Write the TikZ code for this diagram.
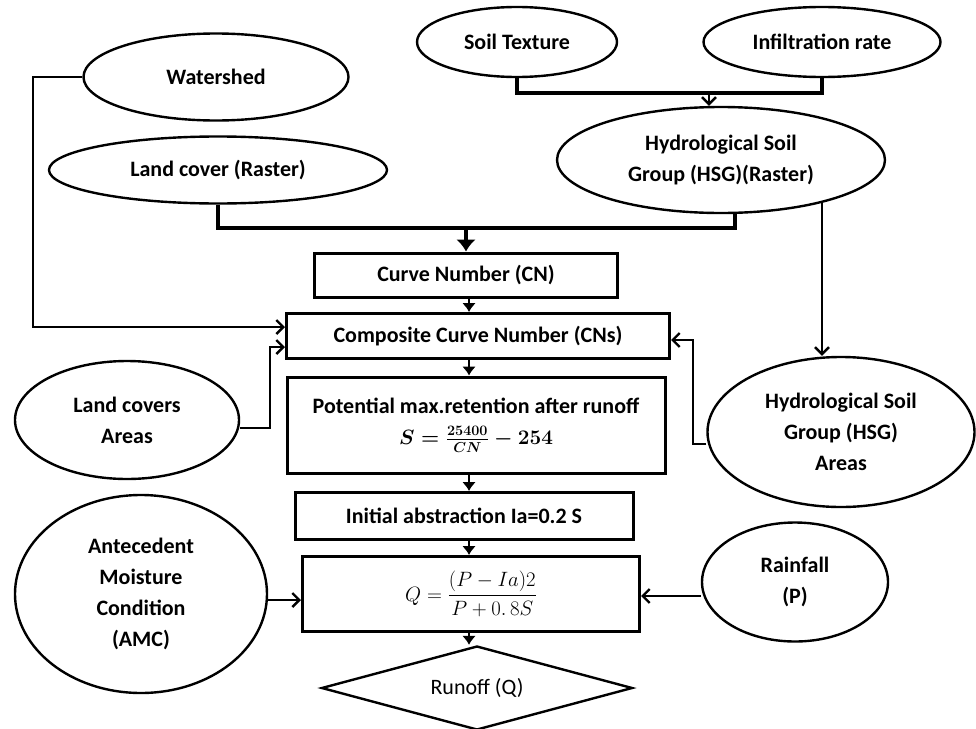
\documentclass[tikz,border=0pt]{standalone}
\usepackage{amsmath}
\usepackage{fontspec}
\setmainfont{Carlito}
\usetikzlibrary{shapes.geometric,arrows.meta}

\begin{document}
\begin{tikzpicture}[x=1pt,y=-1pt,
        font=\fontsize{22}{31}\selectfont\bfseries,
        oval/.style={draw,ellipse,line width=2.4pt,inner sep=0pt,align=center},
        stepbox/.style={draw,rectangle,line width=3pt,inner sep=0pt,align=center},
        thickline/.style={line width=4.5pt},
        arr/.style={line width=2.4pt,-{Straight Barb[length=7pt,width=14pt]}},
        downarr/.style={line width=2pt,-{Latex[length=9pt,width=14pt]}},
        bigarr/.style={line width=4.5pt,-{Latex[length=12pt,width=20pt]}}]
    \useasboundingbox (0,0) rectangle (976,728);

    % inputs
    \node[oval,minimum width=265pt,minimum height=87pt] (watershed) at (216,77) {Watershed};
    \node[oval,minimum width=338pt,minimum height=67pt] (landcover) at (218,170) {Land cover (Raster)};
    \node[oval,minimum width=200pt,minimum height=70pt] (soiltex) at (517,42) {Soil Texture};
    \node[oval,minimum width=237pt,minimum height=70pt] (infil) at (822,42) {Infiltration rate};
    \node[oval,minimum width=328pt,minimum height=106pt] (hsgras) at (721,160) {Hydrological Soil\\Group (HSG)(Raster)};
    \node[oval,minimum width=224pt,minimum height=118pt] (lcareas) at (127,420) {Land covers\\Areas};
    \node[oval,minimum width=267pt,minimum height=150pt] (hsgareas) at (841,432) {Hydrological Soil\\Group (HSG)\\Areas};
    \node[oval,minimum width=252pt,minimum height=198pt] (amc) at (141,594) {Antecedent\\Moisture\\Condition\\(AMC)};
    \node[oval,minimum width=186pt,minimum height=119pt] (rain) at (795,582) {Rainfall\\(P)};

    % steps
    \node[stepbox,minimum width=303pt,minimum height=44pt] (cn) at (466,275) {Curve Number (CN)};
    \node[stepbox,minimum width=383pt,minimum height=45pt] (cns) at (478,336) {Composite Curve Number (CNs)};
    \node[stepbox,minimum width=378pt,minimum height=96pt] (smax) at (476,425) {Potential max.retention after runoff\\ \fontsize{21}{31}\selectfont$\boldsymbol{S=\frac{25400}{CN}-254}$};
    \node[stepbox,minimum width=338pt,minimum height=47pt] (ia) at (464,516) {Initial abstraction Ia=0.2 S};
    \node[stepbox,minimum width=337pt,minimum height=75pt,font=\fontsize{21}{24}\selectfont] (qbox) at (471,594) {$Q=\dfrac{(P-Ia)2}{P+0.\,8S}$};
    \node[draw,diamond,line width=2.4pt,inner sep=0pt,aspect=3.7,minimum width=311pt,minimum height=84pt,font=\fontsize{22}{24}\selectfont] (runoff) at (477,688) {Runoff (Q)};

    \coordinate (j1) at (709,93);
    \coordinate (j2) at (466,228);
    \coordinate (w1) at (33,327);
    \coordinate (l1) at (270,347);
    \coordinate (h1) at (693,340);
    \coordinate (mid) at (469,0);

    \draw[thickline] (soiltex.south) |- (infil.south |- j1) -- (infil.south);
    \draw[arr] (j1) -- (j1 |- hsgras.north);
    \draw[thickline] (landcover.south) |- (j2) -| ([xshift=14pt]hsgras.south);
    \draw[bigarr] (j2) -- (cn.north);
    \draw[arr] (hsgras.-23) -- (hsgras.-23 |- hsgareas.north);

    \draw[arr] (watershed.west) -| (w1) -- (w1 -| cns.west);
    \draw[arr] ([yshift=-8pt]lcareas.east) -| (l1) -- (l1 -| cns.west);
    \draw[arr] ([yshift=-12pt]hsgareas.west) -| (h1) -- (h1 -| cns.east);
    \draw[arr] ([yshift=-6pt]amc.east) -- ([yshift=-6pt]amc.east -| qbox.west);
    \draw[arr] ([yshift=-14pt]rain.west) -- ([yshift=-14pt]rain.west -| qbox.east);

    \foreach \a/\b in {cn/cns,cns/smax,smax/ia,ia/qbox,qbox/runoff}
        \draw[downarr] (mid |- \a.south) -- (mid |- \b.north);
\end{tikzpicture}
\end{document}
